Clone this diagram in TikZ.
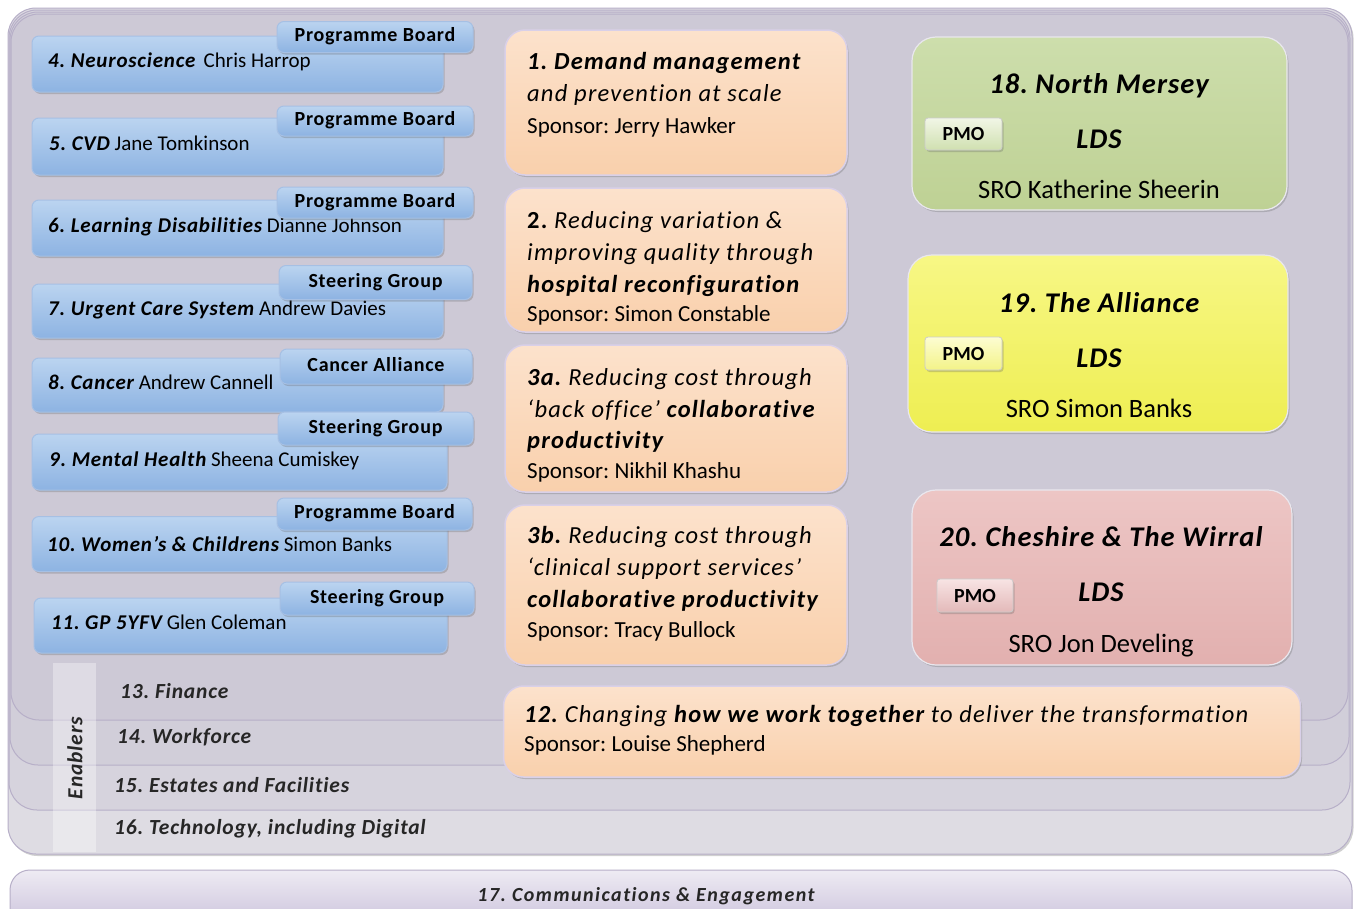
\documentclass[tikz,border=0pt]{standalone}
\usepackage{fontspec}
\setmainfont{Carlito}
\newfontfamily\wideA{Carlito}[LetterSpace=5, Ligatures=NoCommon]
\newfontfamily\wideB{Carlito}[LetterSpace=3.8, Ligatures=NoCommon]
\newfontfamily\wideC{Carlito}[LetterSpace=7.5, Ligatures=NoCommon]
\usetikzlibrary{shadows}
\definecolor{panelA}{HTML}{CDC9D6}
\definecolor{panelB}{HTML}{D1CED9}
\definecolor{panelC}{HTML}{D6D3DD}
\definecolor{panelD}{HTML}{DEDCE3}
\definecolor{laydraw}{HTML}{B7AFC8}
\definecolor{barTop}{HTML}{EEEBF3}
\definecolor{barBot}{HTML}{C2B8D6}
\definecolor{blueTop}{HTML}{BBD4F0}
\definecolor{blueBot}{HTML}{8DB3E2}
\definecolor{blueDraw}{HTML}{A6C0E4}
\definecolor{orTop}{HTML}{FCE2CC}
\definecolor{orBot}{HTML}{F9D0AC}
\definecolor{orDraw}{HTML}{D9D0E8}
\definecolor{grTop}{HTML}{CDDEAC}
\definecolor{grBot}{HTML}{BED194}
\definecolor{yeTop}{HTML}{F7F785}
\definecolor{yeBot}{HTML}{EEEE52}
\definecolor{piTop}{HTML}{EDC6C5}
\definecolor{piBot}{HTML}{E2B0AF}
\definecolor{pgTop}{HTML}{F1F6E6}
\definecolor{pgBot}{HTML}{D0E0B0}
\definecolor{pyTop}{HTML}{FDFDD2}
\definecolor{pyBot}{HTML}{F3F388}
\definecolor{ppTop}{HTML}{F8E4E4}
\definecolor{ppBot}{HTML}{E3B9B9}
\newcommand\myfs[2]{\fontsize{#1}{#2}\selectfont}
\newcommand\bi[1]{{\wideB\bfseries\itshape#1}}
\begin{document}
\frenchspacing
\begin{tikzpicture}[x=1pt,y=-1pt,
  layer/.style={draw=laydraw, line width=1pt, rounded corners=28pt},
  shad/.style={drop shadow={shadow xshift=1.5pt, shadow yshift=-2pt, opacity=0.3, fill=black!60}},
  bluebox/.style={shape=rectangle, draw=blueDraw, line width=1pt, rounded corners=7pt,
     top color=blueTop, bottom color=blueBot, shad, inner sep=0pt},
  tabbox/.style={bluebox, font=\wideB\bfseries\myfs{20}{24}, text height=13pt, text depth=4pt},
  ltext/.style={anchor=base west, inner sep=0pt, font=\myfs{21}{24}},
  orbox/.style={shape=rectangle, draw=orDraw, line width=1.5pt, rounded corners=20pt,
     top color=orTop, bottom color=orBot, shad, inner sep=0pt},
  otext/.style={anchor=base west, inner sep=0pt, font=\myfs{23}{28}},
  oitext/.style={anchor=base west, inner sep=0pt, font=\wideA\itshape\myfs{24.5}{28}},
  rbox/.style={shape=rectangle, draw=white!70!laydraw, line width=1.2pt, rounded corners=24pt, shad, inner sep=0pt},
  pmo/.style={shape=rectangle, draw=white!60!gray, line width=0.8pt, rounded corners=3pt, shad,
     inner sep=0pt, font=\bfseries\myfs{20}{24}, text height=13pt, text depth=0pt},
  rtitle/.style={anchor=base, inner sep=0pt, font=\wideB\bfseries\itshape\myfs{28.5}{32}},
  rsro/.style={anchor=base, inner sep=0pt, font=\myfs{26.5}{30}},
  etext/.style={anchor=base west, inner sep=0pt, font=\wideB\bfseries\itshape\myfs{21.5}{24}, text=black!85}
]
\useasboundingbox (0,0) rectangle (1355,908);
\fill[white] (0,0) rectangle (1355,908);

% stacked panels
\path[layer, fill=panelD, shad] (8,8) rectangle (1352,854);
\path[layer, fill=panelC] (9,10) rectangle (1350,810);
\path[layer, fill=panelB] (10,12) rectangle (1349,765);
\path[layer, fill=panelA] (11,14) rectangle (1348,720);
\fill[white, opacity=0.35] (53,663) rectangle (96,852);

% enablers
\node[rotate=90, inner sep=0pt, font=\wideB\bfseries\itshape\myfs{21.5}{24}, text=black!85] (enab) at (75,758) {Enablers};
\node[etext] (e13) at (120,698) {13. Finance};
\node[etext] (e14) at (117,743) {14. Workforce};
\node[etext] (e15) at (114,792) {15. Estates and Facilities};
\node[etext] (e16) at (114,834) {16. Technology, including Digital};

% bar 17
\path[draw=laydraw, line width=1pt, rounded corners=20pt, top color=barTop, bottom color=barBot] (10,870) rectangle (1352,940);
\node[anchor=base, inner sep=0pt, font=\wideC\bfseries\itshape\myfs{20}{24}, text=black!85] (e17) at (646,901) {17. Communications \& Engagement};

% blue workstream boxes
\node[bluebox, minimum width=411pt, minimum height=56pt] (b4) at (237.5,64) {};
\node[bluebox, minimum width=411pt, minimum height=57pt] (b5) at (237.5,146.5) {};
\node[bluebox, minimum width=411pt, minimum height=56pt] (b6) at (237.5,228) {};
\node[bluebox, minimum width=411pt, minimum height=54pt] (b7) at (237.5,311) {};
\node[bluebox, minimum width=411pt, minimum height=54pt] (b8) at (237.5,385) {};
\node[bluebox, minimum width=415pt, minimum height=56pt] (b9) at (239.5,462) {};
\node[bluebox, minimum width=415pt, minimum height=55pt] (b10) at (239.5,544) {};
\node[bluebox, minimum width=413pt, minimum height=55pt] (b11) at (240.5,625.5) {};

\node[ltext] (l4) at (48,67) {\bi{4. Neuroscience}\, Chris Harrop};
\node[ltext] (l5) at (49,150) {\bi{5. CVD} Jane Tomkinson};
\node[ltext] (l6) at (48,232) {\bi{6. Learning Disabilities} Dianne Johnson};
\node[ltext] (l7) at (48,315) {\bi{7. Urgent Care System} Andrew Davies};
\node[ltext] (l8) at (48,389) {\bi{8. Cancer} Andrew Cannell};
\node[ltext] (l9) at (49,466) {\bi{9. Mental Health} Sheena Cumiskey};
\node[ltext] (l10) at (47,551) {\bi{10. Women’s \& Childrens} Simon Banks};
\node[ltext] (l11) at (51,629) {\bi{11. GP 5YFV} Glen Coleman};

\node[tabbox, minimum width=196pt, minimum height=31pt] (t4) at (375,37) {Programme Board};
\node[tabbox, minimum width=196pt, minimum height=30pt] (t5) at (375,121) {Programme Board};
\node[tabbox, minimum width=196pt, minimum height=31pt] (t6) at (375,202.5) {Programme Board};
\node[tabbox, minimum width=193pt, minimum height=34pt] (t7) at (375.5,282.5) {Steering Group};
\node[tabbox, minimum width=192pt, minimum height=35pt] (t8) at (376,366.5) {Cancer Alliance};
\node[tabbox, minimum width=195pt, minimum height=33pt] (t9) at (375.5,428.5) {Steering Group};
\node[tabbox, minimum width=195pt, minimum height=32pt] (t10) at (374.5,514) {Programme Board};
\node[tabbox, minimum width=194pt, minimum height=33pt] (t11) at (377,598.5) {Steering Group};

% orange programme boxes
\node[orbox, minimum width=342pt, minimum height=145pt] (o1) at (676,102.5) {};
\node[orbox, minimum width=342pt, minimum height=144pt] (o2) at (676,260) {};
\node[orbox, minimum width=342pt, minimum height=147pt] (o3a) at (676,418.5) {};
\node[orbox, minimum width=342pt, minimum height=160pt] (o3b) at (676,585) {};
\node[orbox, minimum width=797pt, minimum height=91pt] (o12) at (902,731.5) {};

\node[oitext] (o1a) at (527,69) {\textbf{1. Demand management}};
\node[oitext] (o1b) at (527,101) {and prevention at scale};
\node[otext] (o1c) at (527,133) {Sponsor: Jerry Hawker};

\node[oitext] (o2a) at (527,228) {\textbf{\upshape 2.} Reducing variation \&};
\node[oitext] (o2b) at (527,260) {improving quality through};
\node[oitext] (o2c) at (527,292) {\textbf{hospital reconfiguration}};
\node[otext] (o2d) at (527,321) {Sponsor: Simon Constable};

\node[oitext] (o3aa) at (527,385) {\textbf{3a.} Reducing cost through};
\node[oitext] (o3ab) at (527,417) {‘back office’ \textbf{collaborative}};
\node[oitext] (o3ac) at (527,448) {\textbf{productivity}};
\node[otext] (o3ad) at (527,478) {Sponsor: Nikhil Khashu};

\node[oitext] (o3ba) at (527,543) {\textbf{3b.} Reducing cost through};
\node[oitext] (o3bb) at (527,575) {‘clinical support services’};
\node[oitext] (o3bc) at (527,607) {\textbf{collaborative productivity}};
\node[otext] (o3bd) at (527,637) {Sponsor: Tracy Bullock};

\node[oitext] (o12a) at (524,722) {\textbf{12.} Changing \textbf{how we work together} to deliver the transformation};
\node[otext] (o12b) at (524,751) {Sponsor: Louise Shepherd};

% right LDS boxes
\node[rbox, top color=grTop, bottom color=grBot, minimum width=375pt, minimum height=173pt] (r18) at (1099.5,123.5) {};
\node[rbox, top color=yeTop, bottom color=yeBot, minimum width=380pt, minimum height=177pt] (r19) at (1098,343.5) {};
\node[rbox, top color=piTop, bottom color=piBot, minimum width=380pt, minimum height=175pt] (r20) at (1102,577.5) {};

\node[rtitle] (r18t) at (1099,93) {18. North Mersey};
\node[rtitle] (r18l) at (1099,148) {LDS};
\node[rsro] (r18s) at (1099,198) {SRO Katherine Sheerin};
\node[pmo, top color=pgTop, bottom color=pgBot, minimum width=77pt, minimum height=32pt] (p18) at (963.5,134) {PMO};

\node[rtitle] (r19t) at (1099,312) {19. The Alliance};
\node[rtitle] (r19l) at (1099,367) {LDS};
\node[rsro] (r19s) at (1099,417) {SRO Simon Banks};
\node[pmo, top color=pyTop, bottom color=pyBot, minimum width=77pt, minimum height=33pt] (p19) at (963.5,353.5) {PMO};

\node[rtitle] (r20t) at (1101,546) {20. Cheshire \& The Wirral};
\node[rtitle] (r20l) at (1101,601) {LDS};
\node[rsro] (r20s) at (1101,652) {SRO Jon Develing};
\node[pmo, top color=ppTop, bottom color=ppBot, minimum width=76pt, minimum height=33pt] (p20) at (975,595.5) {PMO};
\end{tikzpicture}
\end{document}
